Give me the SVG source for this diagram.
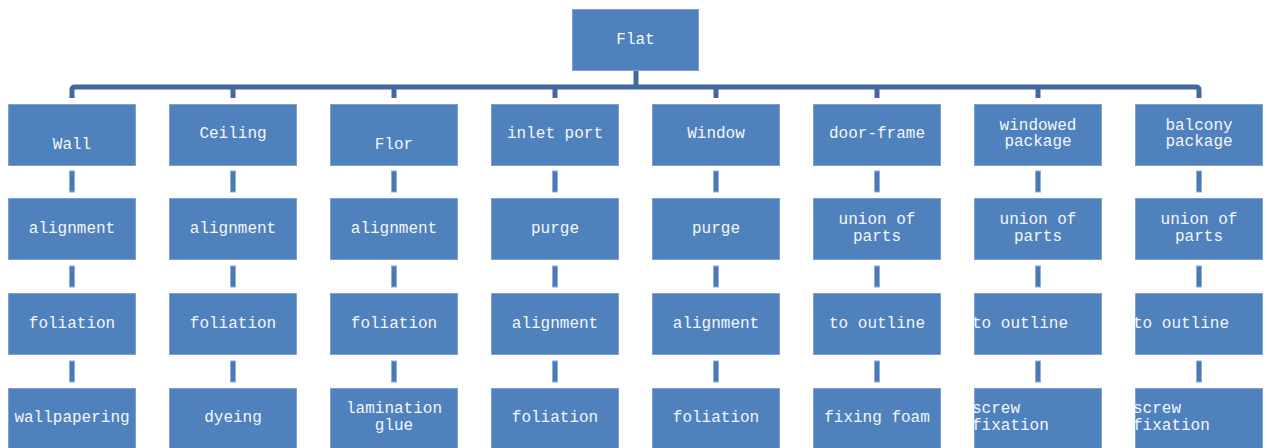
<svg xmlns="http://www.w3.org/2000/svg" width="1267" height="448" viewBox="0 0 1267 448">
  <style>
    .box { fill: #4F81BD; stroke: #7FA1D0; stroke-width: 1; }
    .lbl { font-family: "Liberation Mono", "Courier New", monospace; font-size: 16px; fill: #F4F7FB; text-anchor: middle; }
    .lft { text-anchor: start; }
    .bus { fill: none; stroke: #41699B; stroke-width: 5; stroke-linejoin: round; }
    .link { fill: #4A79B4; stroke: #90AFDA; stroke-width: 1; }
  </style>

  <!-- connectors -->
  <g id="connectors">
    <path class="bus" d="M72,98 V90 Q72,87 75,87 H1196 Q1199,87 1199,90 V98"/>
    <path class="bus" d="M636,70 V87 M233,87 V98 M394,87 V98 M555,87 V98 M716,87 V98 M877,87 V98 M1038,87 V98"/>
    <g id="links">
      <rect class="link" x="69.5" y="171" width="5" height="21"/>
      <rect class="link" x="69.5" y="266" width="5" height="21"/>
      <rect class="link" x="69.5" y="361" width="5" height="21"/>
      <rect class="link" x="230.5" y="171" width="5" height="21"/>
      <rect class="link" x="230.5" y="266" width="5" height="21"/>
      <rect class="link" x="230.5" y="361" width="5" height="21"/>
      <rect class="link" x="391.5" y="171" width="5" height="21"/>
      <rect class="link" x="391.5" y="266" width="5" height="21"/>
      <rect class="link" x="391.5" y="361" width="5" height="21"/>
      <rect class="link" x="552.5" y="171" width="5" height="21"/>
      <rect class="link" x="552.5" y="266" width="5" height="21"/>
      <rect class="link" x="552.5" y="361" width="5" height="21"/>
      <rect class="link" x="713.5" y="171" width="5" height="21"/>
      <rect class="link" x="713.5" y="266" width="5" height="21"/>
      <rect class="link" x="713.5" y="361" width="5" height="21"/>
      <rect class="link" x="874.5" y="171" width="5" height="21"/>
      <rect class="link" x="874.5" y="266" width="5" height="21"/>
      <rect class="link" x="874.5" y="361" width="5" height="21"/>
      <rect class="link" x="1035.5" y="171" width="5" height="21"/>
      <rect class="link" x="1035.5" y="266" width="5" height="21"/>
      <rect class="link" x="1035.5" y="361" width="5" height="21"/>
      <rect class="link" x="1196.5" y="171" width="5" height="21"/>
      <rect class="link" x="1196.5" y="266" width="5" height="21"/>
      <rect class="link" x="1196.5" y="361" width="5" height="21"/>
    </g>
  </g>

  <!-- root -->
  <g id="flat">
    <rect class="box" x="572.5" y="9.5" width="126" height="61"/>
    <text class="lbl" x="635.5" y="44">Flat</text>
  </g>

  <!-- column: Wall -->
  <g id="wall"><rect class="box" x="8.5" y="104.5" width="127" height="61"/><text class="lbl" x="72" y="149">Wall</text></g>
  <g id="wall-alignment"><rect class="box" x="8.5" y="198.5" width="127" height="61"/><text class="lbl" x="72" y="233">alignment</text></g>
  <g id="wall-foliation"><rect class="box" x="8.5" y="293.5" width="127" height="61"/><text class="lbl" x="72" y="328">foliation</text></g>
  <g id="wall-wallpapering"><rect class="box" x="8.5" y="388.5" width="127" height="61"/><text class="lbl" x="72" y="422">wallpapering</text></g>

  <!-- column: Ceiling -->
  <g id="ceiling"><rect class="box" x="169.5" y="104.5" width="127" height="61"/><text class="lbl" x="233" y="138">Ceiling</text></g>
  <g id="ceiling-alignment"><rect class="box" x="169.5" y="198.5" width="127" height="61"/><text class="lbl" x="233" y="233">alignment</text></g>
  <g id="ceiling-foliation"><rect class="box" x="169.5" y="293.5" width="127" height="61"/><text class="lbl" x="233" y="328">foliation</text></g>
  <g id="ceiling-dyeing"><rect class="box" x="169.5" y="388.5" width="127" height="61"/><text class="lbl" x="233" y="422">dyeing</text></g>

  <!-- column: Flor -->
  <g id="flor"><rect class="box" x="330.5" y="104.5" width="127" height="61"/><text class="lbl" x="394" y="149">Flor</text></g>
  <g id="flor-alignment"><rect class="box" x="330.5" y="198.5" width="127" height="61"/><text class="lbl" x="394" y="233">alignment</text></g>
  <g id="flor-foliation"><rect class="box" x="330.5" y="293.5" width="127" height="61"/><text class="lbl" x="394" y="328">foliation</text></g>
  <g id="flor-lamination"><rect class="box" x="330.5" y="388.5" width="127" height="61"/><text class="lbl" x="394" y="413">lamination</text><text class="lbl" x="394" y="430">glue</text></g>

  <!-- column: inlet port -->
  <g id="inlet-port"><rect class="box" x="491.5" y="104.5" width="127" height="61"/><text class="lbl" x="555" y="138">inlet port</text></g>
  <g id="inlet-purge"><rect class="box" x="491.5" y="198.5" width="127" height="61"/><text class="lbl" x="555" y="233">purge</text></g>
  <g id="inlet-alignment"><rect class="box" x="491.5" y="293.5" width="127" height="61"/><text class="lbl" x="555" y="328">alignment</text></g>
  <g id="inlet-foliation"><rect class="box" x="491.5" y="388.5" width="127" height="61"/><text class="lbl" x="555" y="422">foliation</text></g>

  <!-- column: Window -->
  <g id="window"><rect class="box" x="652.5" y="104.5" width="127" height="61"/><text class="lbl" x="716" y="138">Window</text></g>
  <g id="window-purge"><rect class="box" x="652.5" y="198.5" width="127" height="61"/><text class="lbl" x="716" y="233">purge</text></g>
  <g id="window-alignment"><rect class="box" x="652.5" y="293.5" width="127" height="61"/><text class="lbl" x="716" y="328">alignment</text></g>
  <g id="window-foliation"><rect class="box" x="652.5" y="388.5" width="127" height="61"/><text class="lbl" x="716" y="422">foliation</text></g>

  <!-- column: door-frame -->
  <g id="door-frame"><rect class="box" x="813.5" y="104.5" width="127" height="61"/><text class="lbl" x="877" y="138">door-frame</text></g>
  <g id="door-union"><rect class="box" x="813.5" y="198.5" width="127" height="61"/><text class="lbl" x="877" y="224">union of</text><text class="lbl" x="877" y="241">parts</text></g>
  <g id="door-outline"><rect class="box" x="813.5" y="293.5" width="127" height="61"/><text class="lbl" x="877" y="328">to outline</text></g>
  <g id="door-foam"><rect class="box" x="813.5" y="388.5" width="127" height="61"/><text class="lbl" x="877" y="422">fixing foam</text></g>

  <!-- column: windowed package -->
  <g id="windowed-package"><rect class="box" x="974.5" y="104.5" width="127" height="61"/><text class="lbl" x="1038" y="130">windowed</text><text class="lbl" x="1038" y="146">package</text></g>
  <g id="windowed-union"><rect class="box" x="974.5" y="198.5" width="127" height="61"/><text class="lbl" x="1038" y="224">union of</text><text class="lbl" x="1038" y="241">parts</text></g>
  <g id="windowed-outline"><rect class="box" x="974.5" y="293.5" width="127" height="61"/><text class="lbl lft" x="972" y="328">to outline</text></g>
  <g id="windowed-screw"><rect class="box" x="974.5" y="388.5" width="127" height="61"/><text class="lbl lft" x="972" y="413">screw</text><text class="lbl lft" x="972" y="430">fixation</text></g>

  <!-- column: balcony package -->
  <g id="balcony-package"><rect class="box" x="1135.5" y="104.5" width="127" height="61"/><text class="lbl" x="1199" y="130">balcony</text><text class="lbl" x="1199" y="146">package</text></g>
  <g id="balcony-union"><rect class="box" x="1135.5" y="198.5" width="127" height="61"/><text class="lbl" x="1199" y="224">union of</text><text class="lbl" x="1199" y="241">parts</text></g>
  <g id="balcony-outline"><rect class="box" x="1135.5" y="293.5" width="127" height="61"/><text class="lbl lft" x="1133" y="328">to outline</text></g>
  <g id="balcony-screw"><rect class="box" x="1135.5" y="388.5" width="127" height="61"/><text class="lbl lft" x="1133" y="413">screw</text><text class="lbl lft" x="1133" y="430">fixation</text></g>
</svg>
